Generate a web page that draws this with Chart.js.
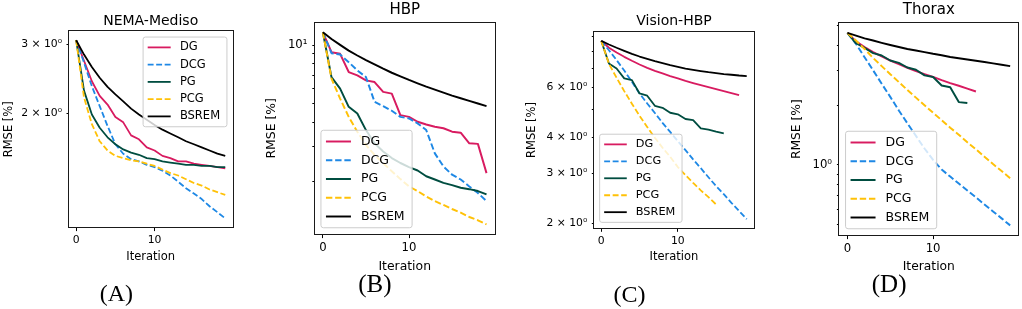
<!DOCTYPE html>
<html>
<head>
<meta charset="utf-8">
<title>RMSE per iteration</title>
<script src="https://cdn.jsdelivr.net/npm/chart.js@4.4.1/dist/chart.umd.min.js"></script>
<style>
  html,body{margin:0;padding:0;background:#fff;}
  #fig{position:relative;width:1022px;height:309px;overflow:hidden;background:#fff;}
  #fig canvas{position:absolute;top:0;}
</style>
</head>
<body>
<div id="fig">
  <canvas id="panelA" width="293" height="309" style="left:0px"></canvas>
  <canvas id="panelB" width="305" height="309" style="left:255px"></canvas>
  <canvas id="panelC" width="332" height="309" style="left:505px"></canvas>
  <canvas id="panelD" width="317" height="309" style="left:760px"></canvas>
</div>
<script>
/* ── Data ── */
const methods=['DG','DCG','PG','PCG','BSREM'];
const iterTicks=[0,10];

// (A) NEMA-Mediso
const nemaDG   =[3.08,2.73,2.42,2.22,2.11,1.96,1.90,1.76,1.72,1.64,1.61,1.56,1.54,1.51,1.51,1.49,1.48,1.47,1.46,1.45];
const nemaDCG  =[3.08,2.70,2.35,2.09,1.86,1.67,1.58,1.53,1.51,1.48,1.46,1.43,1.39,1.34,1.29,1.25,1.21,1.16,1.12,1.08];
const nemaPG   =[3.08,2.29,1.99,1.84,1.74,1.67,1.62,1.59,1.57,1.54,1.53,1.51,1.50,1.49,1.48,1.48,1.47,1.47,1.46,1.46];
const nemaPCG  =[3.08,2.20,1.88,1.70,1.61,1.56,1.54,1.52,1.51,1.49,1.47,1.44,1.41,1.39,1.36,1.33,1.31,1.28,1.26,1.24];
const nemaBSREM=[3.08,2.83,2.63,2.47,2.34,2.24,2.15,2.06,1.99,1.93,1.87,1.82,1.78,1.74,1.70,1.67,1.64,1.61,1.58,1.56];
const nemaTicks=[2,3];
const nemaTickLabels=['2 × 10⁰','3 × 10⁰'];

// (B) HBP
const hbpDG   =[11.63,9.19,9.02,7.27,6.99,6.59,6.46,5.75,5.63,4.37,4.28,4.04,3.91,3.81,3.74,3.59,3.55,3.13,3.11,2.20];
const hbpDCG  =[11.63,9.08,8.94,8.17,7.41,6.85,5.11,4.86,4.60,4.28,4.20,3.96,3.66,2.78,2.38,2.16,2.04,1.88,1.74,1.58];
const hbpPG   =[11.63,6.85,5.98,4.82,4.45,3.66,3.13,2.84,2.63,2.48,2.36,2.27,2.12,2.04,1.96,1.91,1.85,1.82,1.78,1.71];
const hbpPCG  =[11.63,6.72,5.31,4.28,3.59,3.07,2.73,2.48,2.25,2.05,1.88,1.78,1.67,1.58,1.51,1.44,1.38,1.31,1.26,1.20];
const hbpBSREM=[11.63,10.75,10.02,9.37,8.84,8.37,7.95,7.56,7.21,6.91,6.62,6.36,6.12,5.91,5.70,5.50,5.33,5.17,5.01,4.86];
const hbpTicks=[2,3,4,5,6,7,8,9,10];
const hbpTickLabels=['','','','','','','','','10¹'];

// (C) Vision-HBP
const visDG   =[8.71,8.24,7.93,7.66,7.42,7.20,7.01,6.84,6.70,6.56,6.44,6.31,6.20,6.10,6.00,5.90,5.81,5.72,5.63];
const visDCG  =[8.71,8.08,7.46,6.86,6.26,5.70,5.26,4.87,4.50,4.18,3.88,3.61,3.35,3.12,2.90,2.70,2.53,2.36,2.21,2.07];
const visPG   =[8.71,7.26,6.97,6.44,6.35,5.70,5.60,5.16,5.08,4.88,4.82,4.64,4.60,4.30,4.26,4.19,4.13];
const visPCG  =[8.71,7.24,6.47,5.81,5.25,4.76,4.35,3.99,3.68,3.42,3.15,2.95,2.77,2.61,2.47,2.33];
const visBSREM=[8.71,8.46,8.24,8.04,7.85,7.68,7.54,7.40,7.28,7.16,7.07,6.97,6.90,6.83,6.77,6.72,6.66,6.63,6.59,6.56];
const visTicks=[2,3,4,5,6,7,8,9];
const visTickLabels=['2 × 10⁰','3 × 10⁰','4 × 10⁰','','6 × 10⁰','','',''];

// (D) Thorax
const thxDG   =[4.61,4.18,3.91,3.69,3.51,3.35,3.21,3.08,2.96,2.86,2.77,2.67,2.58,2.50,2.42,2.34];
const thxDCG  =[4.61,4.06,3.48,2.99,2.56,2.20,1.88,1.62,1.40,1.21,1.06,0.948,0.874,0.807,0.744,0.687,0.633,0.584,0.539,0.497];
const thxPG   =[4.61,4.09,3.88,3.65,3.55,3.35,3.26,3.09,3.01,2.82,2.77,2.51,2.46,2.07,2.05];
const thxPCG  =[4.61,4.22,3.83,3.45,3.14,2.86,2.61,2.38,2.18,1.995,1.83,1.68,1.54,1.42,1.30,1.20,1.10,1.01,0.933,0.858];
const thxBSREM=[4.61,4.47,4.33,4.22,4.11,4.01,3.92,3.83,3.76,3.69,3.62,3.56,3.49,3.44,3.39,3.34,3.29,3.24,3.19,3.14];
const thxTicks=[0.5,0.6,0.7,0.8,0.9,1,2,3,4,5];
const thxTickLabels=['','','','','','10⁰','','','',''];

(function(){
  'use strict';

  /* ── Styles ── */
  const styleOf={
    DG:{color:'#D81B60',dashed:false},
    DCG:{color:'#1E88E5',dashed:true},
    PG:{color:'#004D40',dashed:false},
    PCG:{color:'#FFC107',dashed:true},
    BSREM:{color:'#000000',dashed:false}
  };
  const FONT='"DejaVu Sans", sans-serif';
  Chart.defaults.font.family=FONT;
  Chart.defaults.color='#000';

  /* ── Panel layout (pixels) ── */
  const panels=[
    {id:'panelA',title:'NEMA-Mediso',tag:'(A)',series:[nemaDG,nemaDCG,nemaPG,nemaPCG,nemaBSREM],
     ticks:nemaTicks,labels:nemaTickLabels,loc:'upper right',
     yW:68.7,padR:60.3,tSize:14,tTop:12.6,tBot:1.9,xH:36.3,lab:11.5,tick:10.8,ylPad:2.4,
     tagSize:24,tagLH:1,tagTop:19.4,tagBot:2,legFs:11.5,k:1.08},
    {id:'panelB',title:'HBP',tag:'(B)',series:[hbpDG,hbpDCG,hbpPG,hbpPCG,hbpBSREM],
     ticks:hbpTicks,labels:hbpTickLabels,loc:'lower left',
     yW:59.7,padR:65.3,tSize:15,tTop:1.6,tBot:3.1,xH:40.14,lab:12.4,tick:11.7,ylPad:9.26,
     tagSize:25,tagLH:0.8,tagTop:0.86,tagBot:14,legFs:12.5,k:1.17},
    {id:'panelC',title:'Vision-HBP',tag:'(C)',series:[visDG,visDCG,visPG,visPCG,visBSREM],
     ticks:visTicks,labels:visTickLabels,loc:'lower left',
     yW:89,padR:83,tSize:14,tTop:13,tBot:2.2,xH:35.6,lab:11.5,tick:10.8,ylPad:19.8,
     tagSize:24,tagLH:1,tagTop:20.4,tagBot:1,legFs:11.3,k:1.08},
    {id:'panelD',title:'Thorax',tag:'(D)',series:[thxDG,thxDCG,thxPG,thxPCG,thxBSREM],
     ticks:thxTicks,labels:thxTickLabels,loc:'lower left',
     yW:79.3,padR:58.7,tSize:15,tTop:1.6,tBot:3.7,xH:39.08,lab:12.3,tick:11.7,ylPad:29.3,
     tagSize:25,tagLH:0.8,tagTop:1.42,tagBot:13.5,legFs:12.5,k:1.17}
  ];

  /* ── Autoscale like matplotlib (5 % margins, log on y) ── */
  function logLimits(series){
    const all=series.flat();
    const lo=Math.log10(Math.min(...all)),hi=Math.log10(Math.max(...all)),m=(hi-lo)*0.05;
    return [Math.pow(10,lo-m),Math.pow(10,hi+m)];
  }
  function iterLimits(series){
    const n=Math.max(...series.map(s=>s.length))-1;
    return [-0.05*n,n*1.05];
  }

  /* ── Frame + matplotlib-style legend ── */
  const axesDecor={
    id:'axesDecor',
    afterDatasetsDraw(chart,args,o){
      const {ctx,chartArea:a}=chart;
      ctx.save();
      ctx.setLineDash([]);
      ctx.strokeStyle='#1a1a1a';ctx.lineWidth=1;
      const L=Math.round(a.left)-0.5,T=Math.round(a.top)-0.5,R=Math.round(a.right)+0.5,B=Math.round(a.bottom)+0.5;
      ctx.strokeRect(L,T,R-L,B-T);

      const fs=o.fontSize,sets=chart.data.datasets;
      ctx.font=fs+'px '+FONT;
      const tw=Math.max(...sets.map(d=>ctx.measureText(d.label).width));
      const pad=0.4*fs,hl=2*fs,htp=0.8*fs,pitch=1.5*fs,gap=0.5*fs;
      const w=2*pad+hl+htp+tw+0.2*fs,h=2*pad+sets.length*fs+(sets.length-1)*0.5*fs;
      const x=o.loc==='upper right'?a.right-gap-w:a.left+gap;
      const y=o.loc==='upper right'?a.top+gap:a.bottom-gap-h;
      ctx.beginPath();
      ctx.roundRect(x,y,w,h,0.2*fs);
      ctx.fillStyle='rgba(255,255,255,0.8)';ctx.fill();
      ctx.strokeStyle='#cccccc';ctx.lineWidth=1;ctx.stroke();
      sets.forEach((d,i)=>{
        const cy=y+pad+fs/2+i*pitch;
        ctx.beginPath();
        ctx.setLineDash(d.borderDash||[]);
        ctx.strokeStyle=d.borderColor;ctx.lineWidth=d.borderWidth;
        ctx.moveTo(x+pad,cy);ctx.lineTo(x+pad+hl,cy);ctx.stroke();
        ctx.setLineDash([]);
        ctx.fillStyle='#000';ctx.textBaseline='middle';ctx.textAlign='left';
        ctx.fillText(d.label,x+pad+hl+htp,cy);
      });
      ctx.restore();
    }
  };

  /* ── Build charts ── */
  panels.forEach(p=>{
    const [ymin,ymax]=logLimits(p.series);
    const [xmin,xmax]=iterLimits(p.series);
    const u=p.k/1.08;
    const lw=1.8*u;
    const datasets=methods.map((name,i)=>({
      label:name,
      data:p.series[i].map((v,j)=>({x:j,y:v})),
      borderColor:styleOf[name].color,
      backgroundColor:styleOf[name].color,
      borderWidth:lw,
      borderDash:styleOf[name].dashed?[5.9*u,2.6*u]:[],
      borderJoinStyle:'round',
      pointRadius:0,
      tension:0,
      fill:false,
      order:methods.length-i
    }));
    const labFont={family:FONT,size:p.lab};
    const tickFont={family:FONT,size:p.tick};

    new Chart(document.getElementById(p.id),{
      type:'line',
      data:{datasets},
      options:{
        responsive:false,
        animation:false,
        events:[],
        layout:{padding:{left:0,right:p.padR,top:0,bottom:0}},
        plugins:{
          legend:{display:false},
          tooltip:{enabled:false},
          title:{display:true,text:p.title,fullSize:false,color:'#000',
            font:{family:FONT,size:p.tSize,weight:'normal',lineHeight:1.2},
            padding:{top:p.tTop,bottom:p.tBot}},
          subtitle:{display:true,text:p.tag,position:'bottom',fullSize:true,color:'#000',
            font:{family:'"Liberation Serif", "Times New Roman", serif',size:p.tagSize,weight:'normal',lineHeight:p.tagLH},
            padding:{top:p.tagTop,bottom:p.tagBot}},
          axesDecor:{fontSize:p.legFs,loc:p.loc}
        },
        scales:{
          x:{
            type:'linear',min:xmin,max:xmax,
            border:{display:false},
            grid:{drawOnChartArea:false,drawTicks:true,tickLength:3.8*u,color:'#000',lineWidth:1},
            ticks:{font:tickFont,color:'#000',padding:2.8*u,autoSkip:false,maxRotation:0,callback:v=>String(v)},
            title:{display:true,text:'Iteration',font:labFont,color:'#000',padding:{top:0,bottom:0}},
            afterBuildTicks:s=>{s.ticks=iterTicks.map(v=>({value:v}));},
            afterFit:s=>{s.height=p.xH;}
          },
          y:{
            type:'logarithmic',min:ymin,max:ymax,
            border:{display:false},
            grid:{drawOnChartArea:false,drawTicks:true,tickLength:2.2*u,color:'#000',lineWidth:1},
            ticks:{font:tickFont,color:'#000',padding:4.5*u,autoSkip:false,callback:(v,i)=>p.labels[i]},
            title:{display:true,text:'RMSE [%]',font:labFont,color:'#000',padding:{top:p.ylPad,bottom:0}},
            afterBuildTicks:s=>{s.ticks=p.ticks.map(v=>({value:v}));},
            afterFit:s=>{s.width=p.yW;}
          }
        }
      },
      plugins:[axesDecor]
    });
  });
})();
</script>
</body>
</html>
